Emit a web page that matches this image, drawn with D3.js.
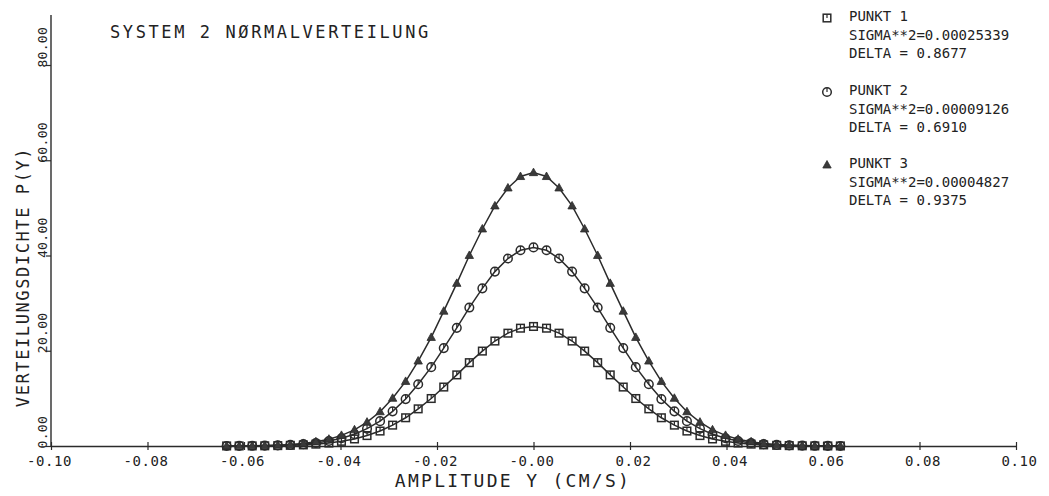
<!DOCTYPE html>
<html>
<head>
<meta charset="utf-8">
<script src="https://cdn.jsdelivr.net/npm/d3@7"></script>
<style>
  html, body { margin: 0; padding: 0; background: #fff; }
  svg { display: block; }
  text { font-family: "DejaVu Sans Mono", "Liberation Mono", monospace; fill: #222; }
</style>
</head>
<body>
<svg id="chart" width="1049" height="496"></svg>
<script>
// ---- data ----
const title = "SYSTEM 2 NØRMALVERTEILUNG";
const xTitle = "AMPLITUDE Y (CM/S)";
const yTitle = "VERTEILUNGSDICHTE P(Y)";
const xTickValues = [-0.10, -0.08, -0.06, -0.04, -0.02, 0.00, 0.02, 0.04, 0.06, 0.08, 0.10];
const xTickLabels = ["-0.10", "-0.08", "-0.06", "-0.04", "-0.02", "-0.00", "0.02", "0.04", "0.06", "0.08", "0.10"];
const yTickValues = [0, 20, 40, 60, 80];
const yTickLabels = ["0.00", "20.00", "40.00", "60.00", "80.00"];

const amplitude = [-0.0636, -0.0610, -0.0583, -0.0557, -0.0530, -0.0504, -0.0477, -0.0451, -0.0424, -0.0398,
  -0.0371, -0.0345, -0.0318, -0.0292, -0.0265, -0.0239, -0.0212, -0.0186, -0.0159, -0.0133,
  -0.0106, -0.0080, -0.0053, -0.0027, 0.0000,
  0.0027, 0.0053, 0.0080, 0.0106, 0.0133, 0.0159, 0.0186, 0.0212, 0.0239, 0.0265,
  0.0292, 0.0318, 0.0345, 0.0371, 0.0398, 0.0424, 0.0451, 0.0477, 0.0504, 0.0530,
  0.0557, 0.0583, 0.0610, 0.0636];

const punkt1 = [0.01, 0.01, 0.02, 0.04, 0.08, 0.14, 0.23, 0.39, 0.62, 0.98,
  1.48, 2.19, 3.14, 4.38, 5.93, 7.80, 9.97, 12.38, 14.93, 17.50,
  19.93, 22.04, 23.69, 24.74, 25.10,
  24.74, 23.69, 22.04, 19.93, 17.50, 14.93, 12.38, 9.97, 7.80, 5.93,
  4.38, 3.14, 2.19, 1.48, 0.98, 0.62, 0.39, 0.23, 0.14, 0.08,
  0.04, 0.02, 0.01, 0.01];

const punkt2 = [0.01, 0.02, 0.04, 0.07, 0.13, 0.23, 0.39, 0.64, 1.04, 1.62,
  2.47, 3.64, 5.22, 7.28, 9.85, 12.96, 16.56, 20.56, 24.81, 29.07,
  33.10, 36.62, 39.36, 41.10, 41.70,
  41.10, 39.36, 36.62, 33.10, 29.07, 24.81, 20.56, 16.56, 12.96, 9.85,
  7.28, 5.22, 3.64, 2.47, 1.62, 1.04, 0.64, 0.39, 0.23, 0.13,
  0.07, 0.04, 0.02, 0.01];

const punkt3 = [0.01, 0.03, 0.05, 0.10, 0.18, 0.31, 0.54, 0.89, 1.43, 2.23,
  3.39, 5.01, 7.19, 10.02, 13.56, 17.84, 22.80, 28.31, 34.15, 40.01,
  45.57, 50.41, 54.18, 56.58, 57.40,
  56.58, 54.18, 50.41, 45.57, 40.01, 34.15, 28.31, 22.80, 17.84, 13.56,
  10.02, 7.19, 5.01, 3.39, 2.23, 1.43, 0.89, 0.54, 0.31, 0.18,
  0.10, 0.05, 0.03, 0.01];

const seriesNames = ["PUNKT 1", "PUNKT 2", "PUNKT 3"];
const seriesSigma = ["SIGMA**2=0.00025339", "SIGMA**2=0.00009126", "SIGMA**2=0.00004827"];
const seriesDelta = ["DELTA = 0.8677", "DELTA = 0.6910", "DELTA = 0.9375"];
const seriesSymbols = ["square", "circle", "triangle"];

// ---- drawing ----
const ink = "#2b2b2b";
const svg = d3.select("#chart");
const x = d3.scaleLinear().domain([-0.10, 0.10]).range([51, 1016]);
const y = d3.scaleLinear().domain([0, 90.5]).range([446, 15]);

// axes
const xAxis = d3.axisBottom(x).tickValues(xTickValues).tickSize(0).tickFormat((d, i) => xTickLabels[i]);
const gx = svg.append("g").attr("transform", `translate(0,${y(0)})`).call(xAxis);
gx.select(".domain").attr("stroke", ink).attr("stroke-width", 1.4);
gx.selectAll(".tick").append("line").attr("y1", -4).attr("y2", 4).attr("stroke", ink).attr("stroke-width", 1.2);
gx.selectAll(".tick text")
  .attr("y", 20).attr("dy", 0)
  .attr("dx", (d, i) => xTickLabels[i].startsWith("-") ? -2 : 3)
  .style("font-size", "14px").style("letter-spacing", "0.6px").attr("fill", ink);

const yAxis = d3.axisLeft(y).tickValues(yTickValues).tickSize(5).tickFormat((d, i) => yTickLabels[i]);
const gy = svg.append("g").attr("transform", `translate(${x(-0.10)},0)`).call(yAxis);
gy.select(".domain").attr("stroke", ink).attr("stroke-width", 1.4).attr("d", `M0,${y(0)}V${y(90.5)}`);
gy.selectAll(".tick line").attr("stroke", ink).attr("stroke-width", 1.2);
gy.selectAll(".tick text")
  .attr("x", 0).attr("dy", 0)
  .attr("transform", "translate(-4,2) rotate(-90)")
  .attr("text-anchor", "start")
  .style("font-size", "13px").style("letter-spacing", "0.3px").attr("fill", ink);

// titles
svg.append("text").attr("x", 110).attr("y", 38).text(title)
  .style("font-size", "17px").style("letter-spacing", "2.6px");
svg.append("text").attr("x", 513).attr("y", 487).attr("text-anchor", "middle").text(xTitle)
  .style("font-size", "18px").style("letter-spacing", "2.3px");
svg.append("text").attr("transform", "translate(29,277) rotate(-90)").attr("text-anchor", "middle").text(yTitle)
  .style("font-size", "17px").style("letter-spacing", "1.6px");

// symbols
function drawSymbol(g, type, cx, cy) {
  if (type === "square") {
    g.append("rect").attr("x", cx - 3.8).attr("y", cy - 3.8).attr("width", 7.6).attr("height", 7.6)
      .attr("fill", "none").attr("stroke", ink).attr("stroke-width", 1.5);
    g.append("line").attr("x1", cx).attr("x2", cx).attr("y1", cy - 3.8).attr("y2", cy)
      .attr("stroke", ink).attr("stroke-width", 1.2);
  } else if (type === "circle") {
    g.append("circle").attr("cx", cx).attr("cy", cy).attr("r", 4.3)
      .attr("fill", "none").attr("stroke", ink).attr("stroke-width", 1.5);
    g.append("line").attr("x1", cx).attr("x2", cx).attr("y1", cy - 4.3).attr("y2", cy)
      .attr("stroke", ink).attr("stroke-width", 1.2);
  } else {
    g.append("path").attr("d", `M${cx},${cy - 4.5}L${cx + 4.2},${cy + 3}L${cx - 4.2},${cy + 3}Z`)
      .attr("fill", "#3a3a3a").attr("stroke", ink).attr("stroke-width", 0.8);
  }
}

const allSeries = [punkt1, punkt2, punkt3];
const line = d3.line().x(d => x(d[0])).y(d => y(d[1]));
allSeries.forEach((vals, si) => {
  const pts = amplitude.map((a, i) => [a, vals[i]]);
  svg.append("path").datum(pts).attr("d", line)
    .attr("fill", "none").attr("stroke", ink).attr("stroke-width", 1.5);
  const g = svg.append("g");
  pts.forEach(p => drawSymbol(g, seriesSymbols[si], x(p[0]), y(p[1])));
});

// legend
const legendTop = [21, 95, 168];
seriesNames.forEach((name, i) => {
  const g = svg.append("g");
  const base = legendTop[i];
  drawSymbol(g, seriesSymbols[i], 827, base - 3);
  [name, seriesSigma[i], seriesDelta[i]].forEach((t, k) => {
    g.append("text").attr("x", 849).attr("y", base + k * 18.5).text(t)
      .style("font-size", "14px");
  });
});
</script>
</body>
</html>
